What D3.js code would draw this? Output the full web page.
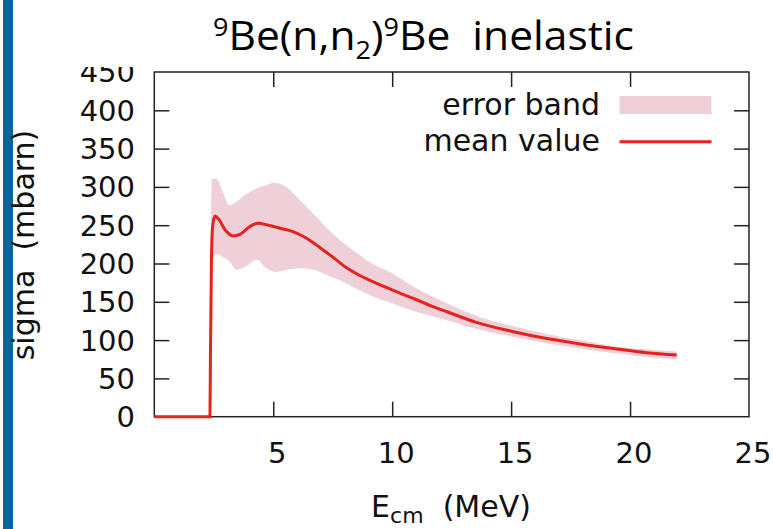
<!DOCTYPE html>
<html><head><meta charset="utf-8">
<script src="https://cdn.jsdelivr.net/npm/d3@7"></script>
<style>body{margin:0;background:#fff}svg{display:block}</style>
</head><body><svg id="c" width="773" height="529"></svg>
<script>
// ---- data ----
const xTicks = [5, 10, 15, 20, 25];
const yTicks = [0, 50, 100, 150, 200, 250, 300, 350, 400, 450];
const meanE = [0, 2.34, 2.36, 2.4, 2.45, 2.55, 2.7, 3.0, 3.3, 3.6, 4.0, 4.35, 4.8, 5.3, 5.8, 6.4, 7.0, 7.6, 8.1, 8.6, 9.0, 9.5, 9.9, 10.5, 11.0, 11.6, 12.3, 13.5, 15.1, 16.5, 17.9, 19.3, 20.7, 21.96];
const meanSigma = [0, 0, 80, 200, 248, 262, 258, 243, 236, 238, 248, 252.5, 250, 246, 242, 233, 220, 206, 194, 185, 179, 172, 167, 159, 153, 145, 137, 123.5, 111, 102, 95, 89, 83.5, 80.5];
const bandE = [2.34, 2.38, 2.42, 2.6, 2.9, 3.15, 3.46, 3.88, 4.3, 4.72, 5.07, 5.42, 6.12, 6.68, 7.2, 7.8, 8.5, 9.2, 9.9, 11.0, 12.3, 13.5, 15.1, 16.5, 17.9, 19.3, 20.7, 21.96];
const bandHigh = [0, 240, 310, 311, 292, 276, 281, 291, 298, 302.5, 305.5, 302.5, 283, 265, 248, 230.7, 214, 199, 189, 168, 148, 132, 118, 108, 100, 92, 88, 85];
const bandLow = [0, 150, 200, 212, 208, 203, 191.5, 196.7, 204.6, 193.7, 189, 191, 193.7, 192, 186, 178, 167, 157, 149, 137, 126, 115, 104, 96, 89, 83, 78, 75];
const legendLabels = ["error band", "mean value"];

// ---- layout ----
const svg = d3.select("#c");
const L = 154.3, R = 749, T = 72, B = 416.7;
const x = d3.scaleLinear().domain([0, 25]).range([L, R]);
const y = d3.scaleLinear().domain([0, 450]).range([B, T]);
const FONT = "'DejaVu Sans', sans-serif";
const RED = "#e5221c", PINK = "#efcfd8";

// left blue bar
svg.append("rect").attr("x", 3).attr("y", 0).attr("width", 10).attr("height", 529).attr("fill", "#0b669f");

svg.append("defs").append("clipPath").attr("id", "topclip")
  .append("rect").attr("x", 0).attr("y", 67).attr("width", 773).attr("height", 462);
const g = svg.append("g").attr("clip-path", "url(#topclip)");

// band
const bandData = bandE.map((e, i) => ({e, lo: bandLow[i], hi: bandHigh[i]}));
g.append("path").datum(bandData)
  .attr("fill", PINK)
  .attr("d", d3.area().x(d => x(d.e)).y0(d => y(d.lo)).y1(d => y(d.hi)).curve(d3.curveMonotoneX));

// axes (gnuplot style inward ticks, mirrored)
const tl = 15;
const axB = g.append("g").attr("transform", `translate(0,${B})`)
  .call(d3.axisBottom(x).tickValues(xTicks.filter(v => v < 25)).tickSize(-tl).tickFormat(""));
const axT = g.append("g").attr("transform", `translate(0,${T})`)
  .call(d3.axisTop(x).tickValues(xTicks.filter(v => v < 25)).tickSize(-tl).tickFormat(""));
const axL = g.append("g").attr("transform", `translate(${L},0)`)
  .call(d3.axisLeft(y).tickValues(yTicks.filter(v => v > 0 && v < 450)).tickSize(-tl).tickFormat(""));
const axR = g.append("g").attr("transform", `translate(${R},0)`)
  .call(d3.axisRight(y).tickValues(yTicks.filter(v => v > 0 && v < 450)).tickSize(-tl).tickFormat(""));
[axB, axT, axL, axR].forEach(a => {
  a.select(".domain").remove();
  a.selectAll(".tick line").attr("stroke", "#222").attr("stroke-width", 1.5);
});
g.append("rect").attr("x", L).attr("y", T).attr("width", R - L).attr("height", B - T)
  .attr("fill", "none").attr("stroke", "#222").attr("stroke-width", 1.5);

// tick labels
g.append("g").selectAll("text").data(yTicks).join("text")
  .attr("x", 135).attr("y", d => y(d)).attr("dy", "0.36em")
  .attr("text-anchor", "end").attr("font-family", FONT).attr("font-size", 29).attr("fill", "#111")
  .text(d => d);
g.append("g").selectAll("text").data(xTicks).join("text")
  .attr("x", d => x(d) + 4).attr("y", 463)
  .attr("text-anchor", "middle").attr("font-family", FONT).attr("font-size", 29).attr("fill", "#111")
  .text(d => d);

// mean line
const line = d3.line().x((d, i) => x(meanE[i])).y(d => y(d)).curve(d3.curveMonotoneX);
g.append("path").datum(meanSigma).attr("fill", "none").attr("stroke", RED).attr("stroke-width", 3)
  .attr("d", line);

// legend
g.append("text").attr("x", 600).attr("y", 115).attr("text-anchor", "end")
  .attr("font-family", FONT).attr("font-size", 30).attr("fill", "#111").text(legendLabels[0]);
g.append("rect").attr("x", 619.5).attr("y", 96).attr("width", 92).attr("height", 18).attr("fill", PINK);
g.append("text").attr("x", 600).attr("y", 151).attr("text-anchor", "end")
  .attr("font-family", FONT).attr("font-size", 30).attr("fill", "#111").text(legendLabels[1]);
g.append("line").attr("x1", 619.5).attr("x2", 711.5).attr("y1", 141.7).attr("y2", 141.7)
  .attr("stroke", RED).attr("stroke-width", 3);

// axis titles
g.append("text").attr("transform", "translate(34,245) rotate(-90)").attr("text-anchor", "middle")
  .attr("font-family", FONT).attr("font-size", 30).attr("fill", "#111")
  .text("sigma\u00a0\u00a0(mbarn)");
const xl = svg.append("text").attr("x", 451).attr("y", 517).attr("text-anchor", "middle")
  .attr("font-family", FONT).attr("font-size", 30).attr("fill", "#111");
xl.append("tspan").text("E");
xl.append("tspan").attr("font-size", 22).attr("dy", 6).text("cm");
xl.append("tspan").attr("dy", -6).text("\u00a0\u00a0(MeV)");

// title
const tg = svg.append("g");
const title = tg.append("text").attr("x", 0).attr("y", 0)
  .attr("font-family", "'Open Sans', Lato, sans-serif").attr("font-size", 41).attr("fill", "#000");
title.append("tspan").attr("font-size", 26).attr("dy", -14).text("9");
title.append("tspan").attr("dy", 14).text("Be(n,n");
title.append("tspan").attr("font-size", 26).attr("dy", 9).text("2");
title.append("tspan").attr("dy", -9).text(")");
title.append("tspan").attr("font-size", 26).attr("dy", -14).text("9");
title.append("tspan").attr("dy", 14).text("Be\u00a0\u00a0inelastic");
const bb = title.node().getBBox();
const sx = 421 / bb.width;
tg.attr("transform", `translate(${213 - bb.x * sx},50) scale(${sx},1)`);
</script>
</body></html>
